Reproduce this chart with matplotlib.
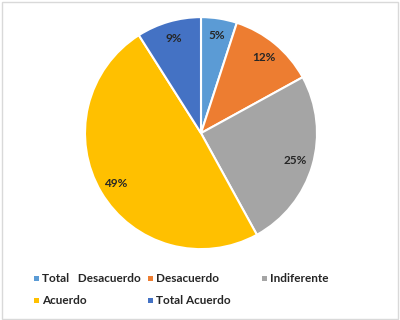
import matplotlib.pyplot as plt
from matplotlib.patches import Rectangle

labels = ["Total   Desacuerdo", "Desacuerdo", "Indiferente", "Acuerdo", "Total Acuerdo"]
values = [5, 12, 25, 49, 9]
colors = ["#5B9BD5", "#ED7D31", "#A5A5A5", "#FFC000", "#4472C4"]

plt.rcParams['font.family'] = ['Lato', 'DejaVu Sans']

fig = plt.figure(figsize=(4, 3.2), dpi=100)
# light grey frame around the chart area
fig.patches.append(Rectangle((0.004, 0.004), 0.992, 0.99, transform=fig.transFigure,
                             fill=False, edgecolor="#D9D9D9", linewidth=1))

ax = fig.add_axes([0.5025 - 0.29, 0.584 - 0.3625, 0.58, 0.725])
wedges, texts, autotexts = ax.pie(values, colors=colors, startangle=90, counterclock=False,
                                  radius=1, autopct="%d%%", pctdistance=0.85,
                                  wedgeprops=dict(edgecolor="white", linewidth=1.5),
                                  textprops=dict(fontsize=8.5, fontweight="bold", color="#262626"))
ax.set_xlim(-1, 1)
ax.set_ylim(-1, 1)
ax.set_aspect("equal")

# legend laid out like the Excel one: 3 equal columns, rows filled left to right
x0, y0 = 36 / 400, 1 - 278 / 320
colw, rowh = 114 / 400, 22 / 320
for i, (lab, col) in enumerate(zip(labels, colors)):
    r, c = divmod(i, 3)
    x = x0 + c * colw
    y = y0 - r * rowh
    fig.patches.append(Rectangle((x - 2.5 / 400, y - 2.5 / 320), 5 / 400, 5 / 320,
                                 transform=fig.transFigure, facecolor=col, edgecolor="none"))
    fig.text(x + 6 / 400, y, lab, fontsize=8.5, fontweight="bold", color="#262626",
             va="center", ha="left")

fig.savefig("out.png", dpi=100)
